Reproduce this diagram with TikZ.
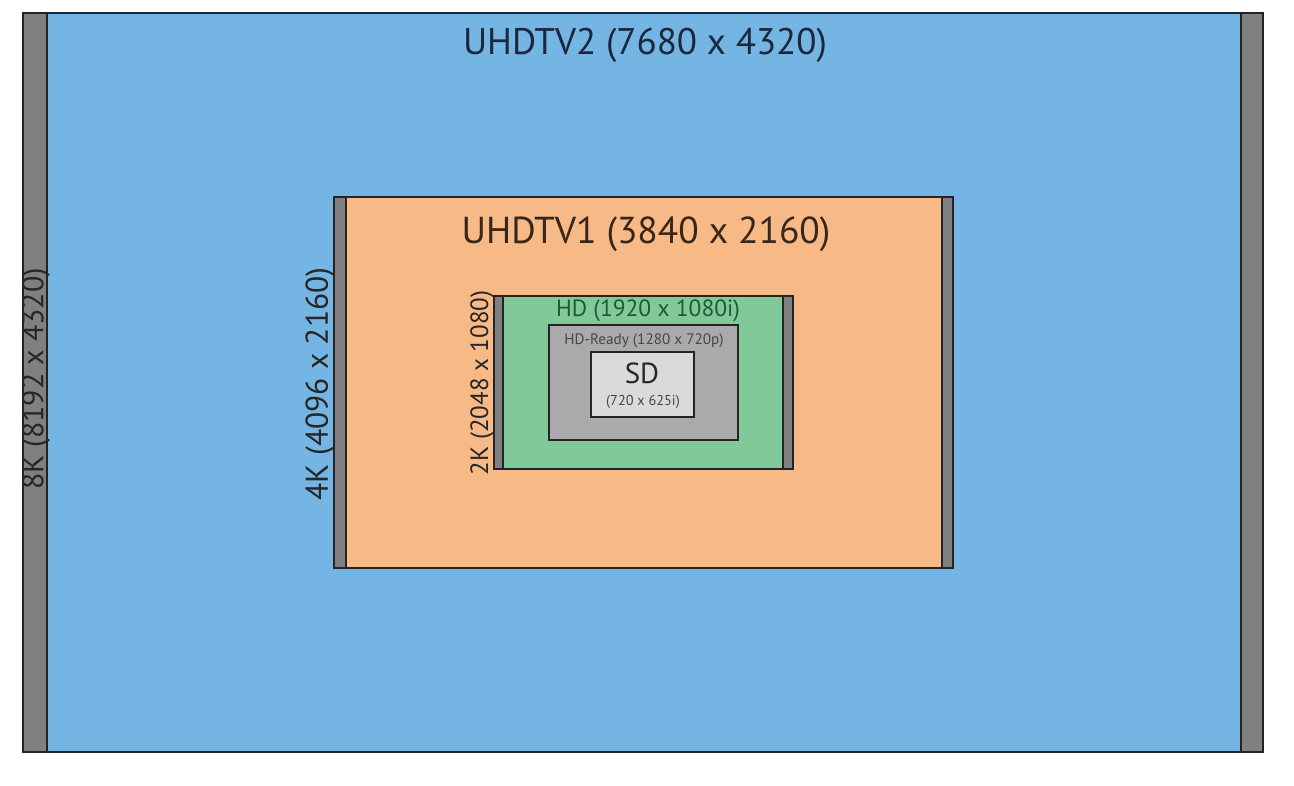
\documentclass[tikz,border=0pt]{standalone}
\usepackage{fontspec}
\setmainfont{PT Sans}
\definecolor{uhdblue}{RGB}{117,181,227}
\definecolor{uhdorange}{RGB}{247,186,135}
\definecolor{hdgreen}{RGB}{130,201,154}
\definecolor{bargray}{RGB}{128,128,128}
\definecolor{readygray}{RGB}{170,170,172}
\definecolor{sdgray}{RGB}{218,218,220}
\definecolor{edge}{RGB}{35,35,40}
\definecolor{navytext}{RGB}{25,40,62}
\definecolor{browntext}{RGB}{55,38,25}
\definecolor{hdtext}{RGB}{30,90,50}
\definecolor{readytext}{RGB}{70,70,70}
\tikzset{
  panel/.style={draw=edge,line width=2pt},
  bar/.style={draw=edge,fill=bargray,line width=2pt},
  lbl/.style={inner sep=0pt,text=black!85},
}
\begin{document}
\begin{tikzpicture}[x=1pt,y=-1pt]
\useasboundingbox (0,0) rectangle (1294,785);
\fill[white] (0,0) rectangle (1294,785);
% 8K / UHDTV2
\draw[bar] (23,13) rectangle (1263,752);
\draw[panel,fill=uhdblue] (47,13) rectangle (1241,752);
% 4K / UHDTV1
\draw[bar] (334,197) rectangle (953,568);
\draw[panel,fill=uhdorange] (346,197) rectangle (942,568);
% 2K / HD
\draw[bar] (494,296) rectangle (793,469);
\draw[panel,fill=hdgreen] (503,296) rectangle (783,469);
% HD-Ready
\draw[panel,fill=readygray] (549,325) rectangle (738,440);
% SD
\draw[panel,fill=sdgray] (591,352) rectangle (694,417);
% labels
\node[lbl,font=\fontsize{37}{40}\selectfont,text=navytext] (uhd2) at (645,45) {UHDTV2 (7680 x 4320)};
\node[lbl,font=\fontsize{37.5}{40}\selectfont,text=browntext] (uhd1) at (646,234) {UHDTV1 (3840 x 2160)};
\node[lbl,font=\fontsize{30}{32}\selectfont,rotate=90] (k8) at (36,379) {8K (8192 x 4320)};
\node[lbl,font=\fontsize{31.5}{33}\selectfont,rotate=90] (k4) at (320,384) {4K (4096 x 2160)};
\node[lbl,font=\fontsize{25}{27}\selectfont,rotate=90] (k2) at (482,383) {2K (2048 x 1080)};
\node[lbl,font=\fontsize{23.5}{25}\selectfont,text=hdtext] (hd) at (648,311) {HD (1920 x 1080i)};
\node[lbl,font=\fontsize{15.2}{17}\selectfont,text=readytext] (ready) at (644,341) {HD-Ready (1280 x 720p)};
\node[lbl,font=\fontsize{29}{31}\selectfont] (sd) at (642,373) {SD};
\node[lbl,font=\fontsize{14.3}{16}\selectfont,text=readytext] (sdres) at (643,402) {(720 x 625i)};
\end{tikzpicture}
\end{document}
